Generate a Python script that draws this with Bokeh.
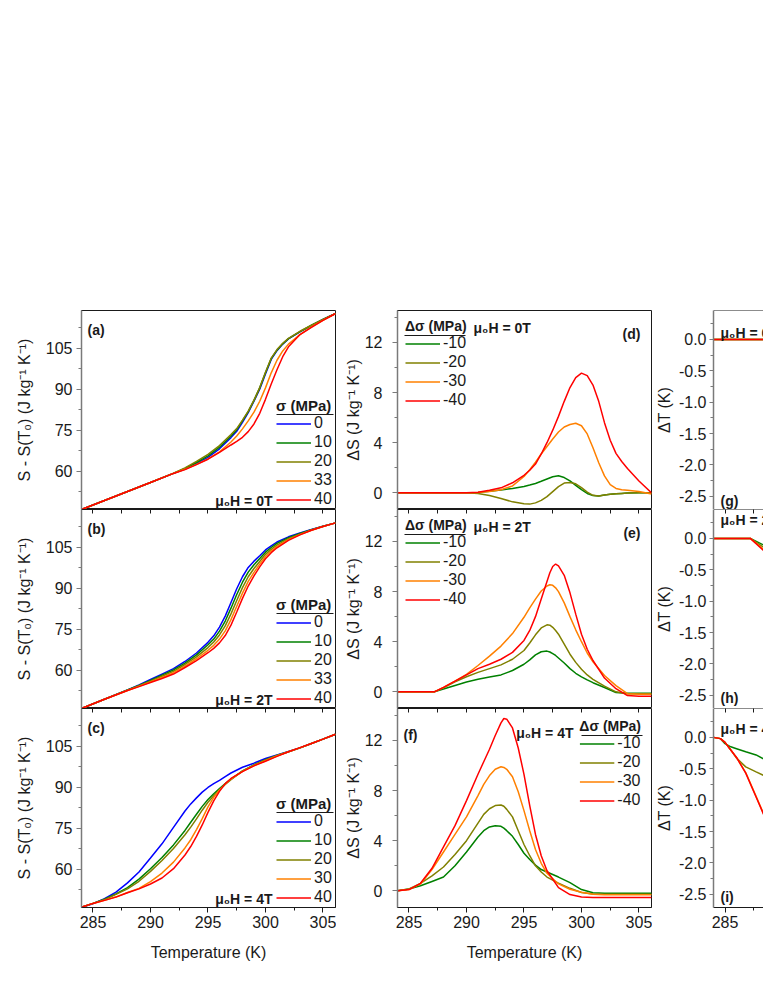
from bokeh.plotting import figure
from bokeh.layouts import row, column
from bokeh.models import (Range1d, FixedTicker, LinearAxis, Legend, LegendItem,
                          Label, Spacer, Span, Arrow)
from bokeh.embed import file_html
from bokeh.resources import INLINE

# ---------------------------------------------------------------- data
SIGMA_AB = ["0", "10", "20", "33", "40"]
SIGMA_C = ["0", "10", "20", "30", "40"]
DSIGMA = ["-10", "-20", "-30", "-40"]
FIELDS = ["0T", "2T", "4T"]

X_TICKS = [285, 290, 295, 300, 305]
X_MINOR = [287.5, 292.5, 297.5, 302.5]
S_TICKS = [60, 75, 90, 105]
S_MINOR = [52.5, 67.5, 82.5, 97.5, 112.5]
DS_TICKS = [0, 4, 8, 12]
DS_MINOR = [2, 6, 10, 14]
DT_TICKS = [0.0, -0.5, -1.0, -1.5, -2.0, -2.5]
DT_MINOR = [0.25, -0.25, -0.75, -1.25, -1.75, -2.25]
DT_LABELS = ["0.0", "-0.5", "-1.0", "-1.5", "-2.0", "-2.5"]

# (a) mu0H = 0T : S - S(T0)
T_a = [284, 286, 288, 290, 292, 293, 294, 295, 296, 297, 297.5, 298, 298.5, 299,
       299.5, 300, 300.5, 301, 301.5, 302, 303, 304, 305, 306.1]
S_a_0 = [46.0, 49.3, 52.6, 55.9, 59.2, 60.8, 62.9, 65.1, 68.2, 72.3, 74.6, 77.9, 81.4, 85.6,
         90.0, 95.6, 100.9, 104.1, 106.5, 108.4, 111.0, 113.3, 115.5, 117.7]
S_a_10 = [46.0, 49.3, 52.6, 55.9, 59.2, 61.0, 63.2, 65.6, 68.8, 72.9, 75.2, 78.4, 81.8, 85.9,
          90.5, 96.0, 101.2, 104.3, 106.6, 108.5, 111.1, 113.4, 115.5, 117.7]
S_a_20 = [46.0, 49.3, 52.6, 55.9, 59.3, 61.2, 63.6, 66.2, 69.4, 73.4, 75.6, 78.7, 82.0, 86.0,
          90.6, 96.2, 101.4, 104.5, 106.8, 108.6, 111.2, 113.4, 115.5, 117.7]
S_a_33 = [46.0, 49.3, 52.6, 55.9, 59.2, 60.7, 62.5, 64.5, 67.1, 70.7, 72.9, 75.5, 78.4, 81.6,
          85.6, 90.5, 96.0, 100.6, 104.0, 106.5, 110.0, 112.8, 115.2, 117.7]
S_a_40 = [46.0, 49.3, 52.6, 55.9, 59.2, 60.6, 62.4, 64.4, 66.9, 69.6, 70.9, 72.4, 74.5, 77.3,
          81.2, 86.3, 91.9, 97.1, 101.9, 105.5, 110.0, 112.6, 115.2, 117.7]

# (b) mu0H = 2T
T_b = [284, 286, 288, 289, 290, 291, 292, 293, 294, 295, 295.5, 296, 296.5, 297, 297.5,
       298, 298.5, 299, 299.5, 300, 300.5, 301, 302, 303, 304, 305, 306.1]
S_b_0 = [46.0, 49.4, 52.8, 54.6, 56.6, 58.6, 60.6, 63.2, 66.3, 70.2, 72.6, 75.8, 79.8, 84.8,
         89.8, 94.2, 97.6, 99.9, 101.9, 104.0, 105.5, 106.9, 108.8, 110.2, 111.5, 112.7, 113.9]
S_b_10 = [46.0, 49.4, 52.8, 54.4, 56.3, 58.2, 60.1, 62.6, 65.6, 69.3, 71.4, 74.3, 78.0, 82.7,
          87.7, 92.2, 95.9, 98.6, 100.9, 103.2, 104.9, 106.4, 108.5, 110.0, 111.4, 112.7, 113.9]
S_b_20 = [46.0, 49.4, 52.7, 54.3, 56.0, 57.8, 59.6, 62.1, 64.9, 68.3, 70.3, 72.9, 76.2, 80.6,
          85.5, 90.2, 94.2, 97.2, 99.8, 102.4, 104.2, 105.8, 108.1, 109.8, 111.3, 112.6, 113.9]
S_b_33 = [46.0, 49.4, 52.6, 54.1, 55.7, 57.4, 59.1, 61.5, 64.2, 67.3, 69.1, 71.4, 74.4, 78.5,
          83.4, 88.2, 92.5, 95.8, 98.8, 101.6, 103.6, 105.3, 107.8, 109.6, 111.2, 112.6, 113.9]
S_b_40 = [46.0, 49.4, 52.6, 54.0, 55.5, 57.0, 58.6, 61.0, 63.5, 66.4, 68.0, 70.0, 72.7, 76.5,
          81.3, 86.3, 90.8, 94.5, 97.8, 100.8, 103.0, 104.8, 107.5, 109.5, 111.2, 112.6, 113.9]

# (c) mu0H = 4T
T_c = [284, 285, 286, 287, 288, 289, 290, 291, 292, 293, 293.5, 294, 294.5, 295, 295.5,
       296, 296.5, 297, 298, 299, 300, 301, 302, 303, 304, 305, 306.1]
S_c_0 = [46.1, 47.4, 49.2, 51.6, 55.0, 59.0, 64.1, 69.3, 75.3, 81.3, 83.9, 86.1, 88.2, 89.9,
         91.3, 92.5, 93.9, 95.2, 97.3, 98.8, 100.5, 101.8, 103.1, 104.4, 106.0, 107.6, 109.4]
S_c_10 = [46.1, 47.5, 49.0, 51.0, 53.3, 56.4, 60.2, 64.3, 68.9, 74.2, 77.2, 80.1, 83.0, 85.5,
          87.6, 89.5, 91.3, 93.0, 96.0, 98.2, 100.1, 101.6, 103.0, 104.4, 106.0, 107.6, 109.4]
S_c_20 = [46.1, 47.5, 48.9, 50.8, 52.8, 55.6, 59.2, 63.2, 67.6, 72.6, 75.4, 78.4, 81.6, 84.5,
          86.9, 89.0, 91.0, 92.8, 95.9, 98.1, 100.0, 101.6, 103.0, 104.4, 106.0, 107.6, 109.4]
S_c_30 = [46.1, 47.5, 48.6, 49.9, 51.5, 53.0, 55.5, 58.6, 62.6, 67.8, 70.8, 74.5, 78.5, 82.8,
          86.3, 89.0, 91.2, 93.0, 95.8, 97.9, 99.7, 101.4, 103.0, 104.4, 106.0, 107.6, 109.4]
S_c_40 = [46.1, 47.5, 48.6, 49.8, 51.4, 52.8, 54.6, 56.8, 60.2, 65.2, 68.3, 72.0, 76.2, 80.8,
          85.0, 88.5, 91.3, 93.2, 95.7, 97.8, 99.5, 101.3, 103.0, 104.5, 106.0, 107.6, 109.4]

# (d) Delta S, mu0H = 0T
T_d = [284, 290, 291, 292, 293, 294, 295, 295.5, 296, 296.5, 297, 297.5, 298, 298.5, 299,
       299.5, 300, 300.5, 301, 301.5, 302, 302.5, 303, 303.5, 304, 305, 306.1]
DS_d_10 = [0, 0, 0.03, 0.12, 0.22, 0.35, 0.5, 0.62, 0.75, 0.92, 1.1, 1.28, 1.36, 1.22, 0.95,
           0.6, 0.25, -0.05, -0.22, -0.25, -0.18, -0.12, -0.08, -0.05, -0.02, 0, 0]
DS_d_20 = [0, 0, -0.05, -0.22, -0.45, -0.72, -0.88, -0.9, -0.8, -0.6, -0.3, 0.1, 0.5, 0.78, 0.82,
           0.72, 0.42, 0.05, -0.2, -0.25, -0.18, -0.12, -0.08, -0.05, -0.02, 0, 0]
DS_d_30 = [0, 0, 0.02, 0.1, 0.25, 0.55, 1.3, 1.85, 2.45, 3.1, 3.7, 4.3, 4.85, 5.25, 5.45,
           5.55, 5.35, 4.7, 3.6, 2.4, 1.35, 0.65, 0.35, 0.25, 0.2, 0.1, -0.1]
DS_d_40 = [0, 0, 0.05, 0.2, 0.4, 0.8, 1.4, 1.8, 2.3, 3.1, 4.0, 5.0, 6.1, 7.3, 8.4,
           9.2, 9.55, 9.35, 8.6, 7.3, 5.6, 4.2, 3.15, 2.5, 1.95, 0.95, 0]

# (e) Delta S, mu0H = 2T
T_e = [284, 287.2, 288, 289, 290, 291, 292, 293, 294, 295, 295.5, 296, 296.5, 297, 297.25,
       297.5, 297.75, 298, 298.5, 299, 299.5, 300, 300.5, 301, 302, 303, 304, 305, 306.1]
DS_e_10 = [0, 0, 0.22, 0.5, 0.78, 1.0, 1.18, 1.35, 1.7, 2.2, 2.55, 2.95, 3.2, 3.25, 3.18,
           3.05, 2.9, 2.7, 2.3, 1.85, 1.48, 1.2, 0.95, 0.73, 0.35, -0.05, -0.12, -0.12, -0.12]
DS_e_20 = [0, 0, 0.32, 0.8, 1.2, 1.55, 1.85, 2.15, 2.6, 3.3, 3.9, 4.55, 5.1, 5.35, 5.32,
           5.15, 4.9, 4.6, 3.8, 3.0, 2.35, 1.8, 1.35, 1.0, 0.45, 0.0, -0.15, -0.15, -0.15]
DS_e_30 = [0, 0, 0.35, 0.85, 1.4, 2.1, 2.85, 3.65, 4.65, 5.95, 6.7, 7.4, 8.05, 8.45, 8.55,
           8.5, 8.3, 8.0, 7.1, 6.0, 4.95, 4.0, 3.1, 2.4, 1.3, 0.5, -0.15, -0.2, -0.2]
DS_e_40 = [0, 0, 0.35, 0.85, 1.35, 1.85, 2.2, 2.6, 3.15, 4.1, 4.9, 6.0, 7.4, 8.8, 9.5,
           10.0, 10.2, 10.05, 9.3, 7.9, 6.2, 4.6, 3.4, 2.5, 1.1, 0.25, -0.3, -0.35, -0.35]

# (f) Delta S, mu0H = 4T
T_f = [284, 285, 286, 287, 288, 289, 290, 291, 291.5, 292, 292.5, 293, 293.25, 293.5, 294,
       294.5, 295, 295.5, 296, 296.5, 297, 298, 299, 300, 301, 302, 303, 306.1]
DS_f_10 = [0, 0.15, 0.4, 0.75, 1.1, 2.0, 3.1, 4.3, 4.8, 5.1, 5.2, 5.15, 5.0, 4.8, 4.35,
           3.7, 3.0, 2.5, 2.05, 1.7, 1.5, 1.1, 0.65, 0.1, -0.15, -0.2, -0.2, -0.2]
DS_f_20 = [0, 0.15, 0.6, 1.2, 1.9, 2.9, 4.0, 5.4, 6.1, 6.55, 6.8, 6.85, 6.75, 6.5, 5.9,
           4.8, 3.7, 2.8, 2.0, 1.5, 1.1, 0.62, 0.2, -0.13, -0.25, -0.27, -0.27, -0.27]
DS_f_30 = [0, 0.1, 0.55, 1.7, 3.1, 4.5, 5.9, 7.6, 8.5, 9.2, 9.7, 9.9, 9.85, 9.7, 9.1,
           7.9, 6.4, 4.8, 3.3, 2.2, 1.4, 0.55, 0.13, -0.12, -0.28, -0.32, -0.32, -0.32]
DS_f_40 = [0, 0.1, 0.6, 1.8, 3.5, 5.2, 7.2, 9.3, 10.3, 11.3, 12.4, 13.4, 13.75, 13.7, 13.0,
           11.4, 9.3, 6.8, 4.5, 2.8, 1.6, 0.25, -0.3, -0.5, -0.53, -0.53, -0.53, -0.53]

# (g)-(i) Delta T (only the left edge of these panels is in view)
T_g = [284, 286, 288, 290]
DT_g_10 = [0, 0, 0, 0]
DT_g_20 = [0, 0, 0, 0]
DT_g_30 = [0, 0, 0, 0]
DT_g_40 = [0, 0, 0, 0]
T_h = [284, 287.2, 288.5, 289]
DT_h_10 = [0, 0, -0.12, -0.17]
DT_h_20 = [0, 0, -0.16, -0.22]
DT_h_30 = [0, 0, -0.2, -0.28]
DT_h_40 = [0, 0, -0.22, -0.3]
T_i = [284, 284.6, 285, 285.5, 286, 286.8, 287.7, 288.5, 289]
DT_i_10 = [0, -0.02, -0.1, -0.15, -0.18, -0.23, -0.28, -0.36, -0.42]
DT_i_20 = [0, -0.02, -0.08, -0.2, -0.33, -0.47, -0.55, -0.62, -0.66]
DT_i_30 = [0, -0.02, -0.08, -0.2, -0.32, -0.56, -0.94, -1.28, -1.49]
DT_i_40 = [0, -0.02, -0.08, -0.2, -0.32, -0.57, -0.95, -1.29, -1.5]

# ---------------------------------------------------------------- style
FONT = "Liberation Sans"
C5 = ["#0000ff", "#008000", "#808000", "#ff8000", "#ff0000"]
C4 = ["#008000", "#808000", "#ff8000", "#ff0000"]
AXIS_GRAY = "#7a7a7a"
DARK = "#1a1a1a"
LW = 1.5

X_RANGE = (284, 306.09)
X_RANGE_3 = (284, 288.43)
S_RANGE = (46.0, 118.8)
DS_RANGE = (-1.33, 14.55)
DT_RANGE = (-2.71, 0.46)

FW = 254
FW3 = 51
FH = 199


def make_fig(xr, yr, fw, min_left, min_right, bottom):
    p = figure(frame_width=fw, frame_height=FH,
               x_range=Range1d(*xr), y_range=Range1d(*yr),
               output_backend="svg", toolbar_location=None,
               x_axis_location="below" if bottom else None,
               min_border_left=min_left, min_border_right=min_right,
               min_border_top=0, min_border_bottom=0)
    p.grid.visible = False
    p.outline_line_color = DARK
    p.outline_line_width = 1
    return p


def style_y(p, ticks, minor, label, tick_out, tick_standoff, label_standoff, overrides=None):
    ax = p.yaxis[0]
    ax.ticker = FixedTicker(ticks=ticks, minor_ticks=minor)
    if overrides:
        ax.major_label_overrides = overrides
    ax.axis_label = label
    ax.axis_label_text_font = FONT
    ax.axis_label_text_font_size = "16px"
    ax.axis_label_text_font_style = "normal"
    ax.axis_label_text_color = DARK
    ax.axis_label_standoff = label_standoff
    ax.major_label_text_font = FONT
    ax.major_label_text_font_size = "16px"
    ax.major_label_text_color = DARK
    ax.major_label_standoff = tick_standoff
    ax.major_tick_out = tick_out
    ax.major_tick_in = 0
    ax.minor_tick_out = 3
    ax.minor_tick_in = 0
    ax.axis_line_color = AXIS_GRAY
    ax.axis_line_width = 1.5
    ax.major_tick_line_color = AXIS_GRAY
    ax.minor_tick_line_color = AXIS_GRAY


def style_x(p, label):
    ax = p.below[0]
    ax.ticker = FixedTicker(ticks=X_TICKS, minor_ticks=X_MINOR)
    ax.axis_label = label
    ax.axis_label_text_font = FONT
    ax.axis_label_text_font_size = "16px"
    ax.axis_label_text_font_style = "normal"
    ax.axis_label_text_color = DARK
    ax.axis_label_standoff = 13
    ax.major_label_text_font = FONT
    ax.major_label_text_font_size = "16px"
    ax.major_label_text_color = DARK
    ax.major_label_standoff = 3
    ax.major_tick_out = 5
    ax.major_tick_in = 0
    ax.minor_tick_out = 3
    ax.minor_tick_in = 0
    ax.axis_line_color = DARK
    ax.major_tick_line_color = DARK
    ax.minor_tick_line_color = DARK


def add_top_ticks(p):
    # inward tick marks along the top edge (no labels: ticks given as minor ticks only)
    ax = LinearAxis(ticker=FixedTicker(ticks=[], minor_ticks=sorted(X_TICKS + X_MINOR)),
                    major_tick_in=0, major_tick_out=0, minor_tick_in=4, minor_tick_out=0,
                    major_label_standoff=0, axis_line_color=None,
                    minor_tick_line_color=DARK)
    p.add_layout(ax, "above")


def lines(p, x, ys, colors):
    return [p.line(x, y, line_color=c, line_width=LW) for y, c in zip(ys, colors)]


def add_legend(p, renderers, labels, title, location, margin, title_size):
    items = [LegendItem(label=l, renderers=[r]) for l, r in zip(labels, renderers)]
    lg = Legend(items=items, location=location, title=title,
                title_text_font=FONT, title_text_font_size=title_size,
                title_text_font_style="bold", title_text_color=DARK, title_standoff=0,
                label_text_font=FONT, label_text_font_size="16px", label_text_color=DARK,
                label_standoff=3, glyph_width=35, glyph_height=17, label_height=17,
                spacing=1, padding=0, margin=margin,
                background_fill_alpha=0, border_line_alpha=0)
    p.add_layout(lg)


def underline(p, xr, yr, fw, x0_px, x1_px, y_px):
    """Rule under a legend title, given in pixels from the frame's top-left corner."""
    kx = (xr[1] - xr[0]) / fw
    ky = (yr[1] - yr[0]) / FH
    yy = yr[1] - y_px * ky
    p.add_layout(Arrow(end=None, x_start=xr[0] + x0_px * kx, x_end=xr[0] + x1_px * kx,
                       y_start=yy, y_end=yy, line_color=DARK, line_width=1))


def label(p, text, x, y, dx, dy, align="left", baseline="middle", size="14px"):
    p.add_layout(Label(x=x, y=y, x_offset=dx, y_offset=dy, text=text,
                       text_font=FONT, text_font_size=size, text_font_style="bold",
                       text_color=DARK, text_align=align, text_baseline=baseline))


S_LABEL = "S - S(T\u2080) (J kg\u207b\u00b9 K\u207b\u00b9)"
DS_LABEL = "\u0394S (J kg\u207b\u00b9 K\u207b\u00b9)"
DT_LABEL = "\u0394T (K)"
MU = "\u03bc\u2080H = "

# ---------------------------------------------------------------- column 1
col1_data = [(T_a, [S_a_0, S_a_10, S_a_20, S_a_33, S_a_40], SIGMA_AB, "(a)"),
             (T_b, [S_b_0, S_b_10, S_b_20, S_b_33, S_b_40], SIGMA_AB, "(b)"),
             (T_c, [S_c_0, S_c_10, S_c_20, S_c_30, S_c_40], SIGMA_C, "(c)")]
col1 = []
for k, (T, ys, labs, tag) in enumerate(col1_data):
    bottom = k == 2
    p = make_fig(X_RANGE, S_RANGE, FW, 81, 1, bottom)
    style_y(p, S_TICKS, S_MINOR, S_LABEL, 5, 4, 10)
    if bottom:
        style_x(p, "Temperature (K)")
    if k > 0:
        add_top_ticks(p)
    rs = lines(p, T, ys, C5)
    add_legend(p, rs, labs, "\u03c3 (MPa)", "bottom_right", 1, "15px")
    underline(p, X_RANGE, S_RANGE, FW, 195, 252, 104)
    label(p, tag, X_RANGE[0], S_RANGE[1], 6, -11, baseline="top")
    label(p, MU + FIELDS[k], X_RANGE[1], S_RANGE[0], -63, 1, align="right", baseline="bottom")
    col1.append(p)

# ---------------------------------------------------------------- column 2
col2_data = [(T_d, [DS_d_10, DS_d_20, DS_d_30, DS_d_40], "(d)"),
             (T_e, [DS_e_10, DS_e_20, DS_e_30, DS_e_40], "(e)"),
             (T_f, [DS_f_10, DS_f_20, DS_f_30, DS_f_40], "(f)")]
col2 = []
for k, (T, ys, tag) in enumerate(col2_data):
    bottom = k == 2
    p = make_fig(X_RANGE, DS_RANGE, FW, 61, 1, bottom)
    style_y(p, DS_TICKS, DS_MINOR, DS_LABEL, 5, 10, 0)
    if bottom:
        style_x(p, "Temperature (K)")
    if k > 0:
        add_top_ticks(p)
    rs = lines(p, T, ys, C4)
    if k < 2:
        add_legend(p, rs, DSIGMA, "\u0394\u03c3 (MPa)", "top_left", 8, "14px")
        underline(p, X_RANGE, DS_RANGE, FW, 7, 68, 25)
        label(p, MU + FIELDS[k], X_RANGE[0], DS_RANGE[1], 76, -17)
        label(p, tag, X_RANGE[1], DS_RANGE[1], -11, -23, align="right")
    else:
        add_legend(p, rs, DSIGMA, "\u0394\u03c3 (MPa)", "top_right", 10, "14px")
        underline(p, X_RANGE, DS_RANGE, FW, 184, 245, 27)
        label(p, MU + FIELDS[k], X_RANGE[1], DS_RANGE[1], -78, -24, align="right")
        label(p, tag, X_RANGE[0], DS_RANGE[1], 6, -26)
    col2.append(p)

# ---------------------------------------------------------------- column 3
col3_data = [(T_g, [DT_g_10, DT_g_20, DT_g_30, DT_g_40], "(g)", -22, 9),
             (T_h, [DT_h_10, DT_h_20, DT_h_30, DT_h_40], "(h)", -10, 11),
             (T_i, [DT_i_10, DT_i_20, DT_i_30, DT_i_40], "(i)", -20, 11)]
col3 = []
for k, (T, ys, tag, top_dy, bot_dy) in enumerate(col3_data):
    bottom = k == 2
    p = make_fig(X_RANGE_3, DT_RANGE, FW3, 59, 0, bottom)
    p.outline_line_color = None
    style_y(p, DT_TICKS, DT_MINOR, DT_LABEL, 4, 3, 3,
            overrides={t: s for t, s in zip(DT_TICKS, DT_LABELS)})
    if bottom:
        style_x(p, None)
    if k > 0:
        add_top_ticks(p)
    p.add_layout(Span(location=DT_RANGE[1], dimension="width", line_color=DARK, line_width=1))
    lines(p, T, ys, C4)
    label(p, MU + FIELDS[k], X_RANGE_3[0], DT_RANGE[1], 7, top_dy)
    label(p, tag, X_RANGE_3[0], DT_RANGE[0], 7, bot_dy)
    col3.append(p)

layout = column(Spacer(width=762, height=310),
                row(column(*col1), column(*col2), column(*col3)))

open("out.html", "w").write(file_html(layout, INLINE))
